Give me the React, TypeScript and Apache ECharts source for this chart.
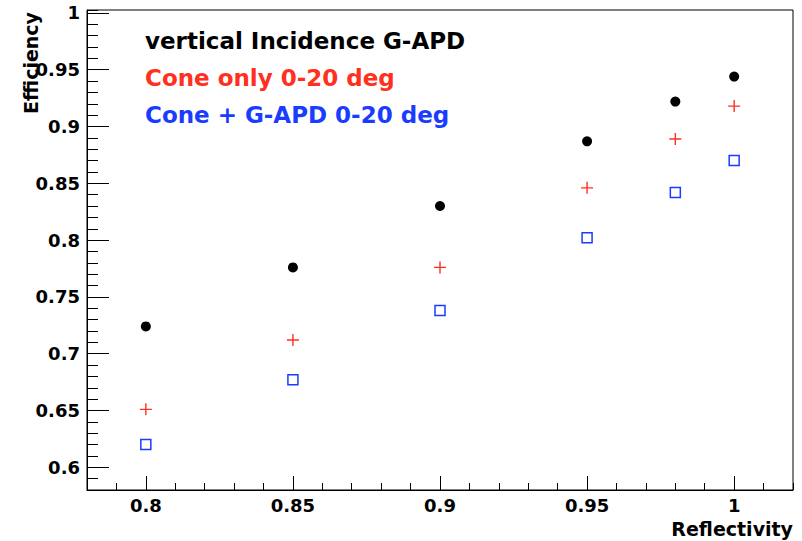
import React, { useEffect, useRef } from "react";
import * as echarts from "echarts";

const reflectivity = [0.8, 0.85, 0.9, 0.95, 0.98, 1.0];
const verticalIncidence = [0.724, 0.776, 0.83, 0.887, 0.922, 0.944];
const coneOnly = [0.651, 0.712, 0.776, 0.846, 0.889, 0.918];
const coneGapd = [0.62, 0.677, 0.738, 0.802, 0.842, 0.87];
const legendLabels = ["vertical Incidence G-APD", "Cone only 0-20 deg", "Cone + G-APD 0-20 deg"];
const xTitle = "Reflectivity";
const yTitle = "Efficiency";

const W = 802;
const H = 541;
const FONT = "DejaVu Sans";
const RED = "#ff3020";
const BLUE = "#1a3cff";

// frame geometry
const GL = 87, GR = 9, GT = 10, GB = 51;
const X_MIN = 0.78, X_MAX = 1.02;
const Y_MIN = 0.58, Y_MAX = 1.0026;

export default function App() {
  const ref = useRef<HTMLDivElement>(null);
  useEffect(() => {
    document.body.style.margin = "0";
    const chart = echarts.init(ref.current!, null, { renderer: "svg" });
    const pw = W - GL - GR;
    const ph = H - GT - GB;
    const xPx = (v: number) => GL + ((v - X_MIN) / (X_MAX - X_MIN)) * pw;
    const yPx = (v: number) => GT + ((Y_MAX - v) / (Y_MAX - Y_MIN)) * ph;
    const g2Top = yPx(1.0);
    const g2Bottom = H - yPx(0.6);
    const g3Left = xPx(0.8);
    const g3Right = W - xPx(1.0);

    const labelStyle = { fontFamily: FONT, fontWeight: "bold" as const, fontSize: 18, color: "#000" };
    const fmt = (v: number) => String(Math.round(v * 100) / 100);

    const option: any = {
      animation: false,
      backgroundColor: "#fff",
      grid: [
        { left: GL, right: GR, top: GT, bottom: GB, show: true, borderColor: "#000", borderWidth: 1, backgroundColor: "transparent" },
        { left: GL, right: GR, top: g2Top, bottom: g2Bottom, show: false },
        { left: g3Left, right: g3Right, top: GT, bottom: GB, show: false },
      ],
      xAxis: [
        {
          gridIndex: 0, type: "value", min: X_MIN, max: X_MAX, interval: 0.01,
          axisLine: { show: true, lineStyle: { color: "#000", width: 1 } },
          axisTick: { show: true, inside: true, length: 7, lineStyle: { color: "#000", width: 1 } },
          axisLabel: { show: false }, splitLine: { show: false },
        },
        { gridIndex: 1, type: "value", min: X_MIN, max: X_MAX, show: false },
        {
          gridIndex: 2, type: "value", min: 0.8, max: 1.0, interval: 0.05,
          axisLine: { show: false },
          axisTick: { show: true, inside: true, length: 14, lineStyle: { color: "#000", width: 1 } },
          axisLabel: { show: true, margin: 6, formatter: fmt, ...labelStyle },
          splitLine: { show: false },
        },
      ],
      yAxis: [
        {
          gridIndex: 0, type: "value", min: Y_MIN, max: Y_MAX, interval: 0.01,
          axisLine: { show: true, lineStyle: { color: "#000", width: 1 } },
          axisTick: { show: true, inside: true, length: 11, lineStyle: { color: "#000", width: 1 } },
          axisLabel: { show: false }, splitLine: { show: false },
        },
        {
          gridIndex: 1, type: "value", min: 0.6, max: 1.0, interval: 0.05,
          axisLine: { show: false },
          axisTick: { show: true, inside: true, length: 22, lineStyle: { color: "#000", width: 1 } },
          axisLabel: { show: true, margin: 7, formatter: fmt, ...labelStyle },
          splitLine: { show: false },
        },
        { gridIndex: 2, type: "value", min: Y_MIN, max: Y_MAX, show: false },
      ],
      series: [
        {
          name: legendLabels[0], type: "scatter", xAxisIndex: 0, yAxisIndex: 0,
          data: reflectivity.map((x, i) => [x, verticalIncidence[i]]),
          symbol: "circle", symbolSize: 10,
          itemStyle: { color: "#000", opacity: 1 }, silent: true,
        },
        {
          name: legendLabels[1], type: "scatter", xAxisIndex: 0, yAxisIndex: 0,
          data: reflectivity.map((x, i) => [x, coneOnly[i]]),
          symbol: "path://M0,5.3H12V6.7H0Z M5.3,0H6.7V12H5.3Z", symbolSize: 12,
          itemStyle: { color: RED, opacity: 1 }, silent: true,
        },
        {
          name: legendLabels[2], type: "scatter", xAxisIndex: 0, yAxisIndex: 0,
          data: reflectivity.map((x, i) => [x, coneGapd[i]]),
          symbol: "rect", symbolSize: 10,
          itemStyle: { color: "rgba(0,0,0,0)", borderColor: BLUE, borderWidth: 1.5, opacity: 1 }, silent: true,
        },
      ],
      graphic: [
        { type: "text", left: 145, top: 29, style: { text: legendLabels[0], fill: "#000", font: `bold 23px "${FONT}"` } },
        { type: "text", left: 145, top: 66, style: { text: legendLabels[1], fill: RED, font: `bold 23px "${FONT}"` } },
        { type: "text", left: 145, top: 103, style: { text: legendLabels[2], fill: BLUE, font: `bold 23px "${FONT}"` } },
        {
          type: "text", x: 793, y: 538,
          style: { text: xTitle, fill: "#000", font: `bold 19px "${FONT}"`, align: "right", verticalAlign: "bottom" },
        },
        {
          type: "text", x: 40, y: 12, rotation: Math.PI / 2,
          style: { text: yTitle, fill: "#000", font: `bold 19px "${FONT}"`, align: "right", verticalAlign: "bottom" },
        },
      ],
    };
    chart.setOption(option);
    return () => chart.dispose();
  }, []);
  return <div ref={ref} style={{ position: "absolute", left: 0, top: 0, width: W, height: H }} />;
}
